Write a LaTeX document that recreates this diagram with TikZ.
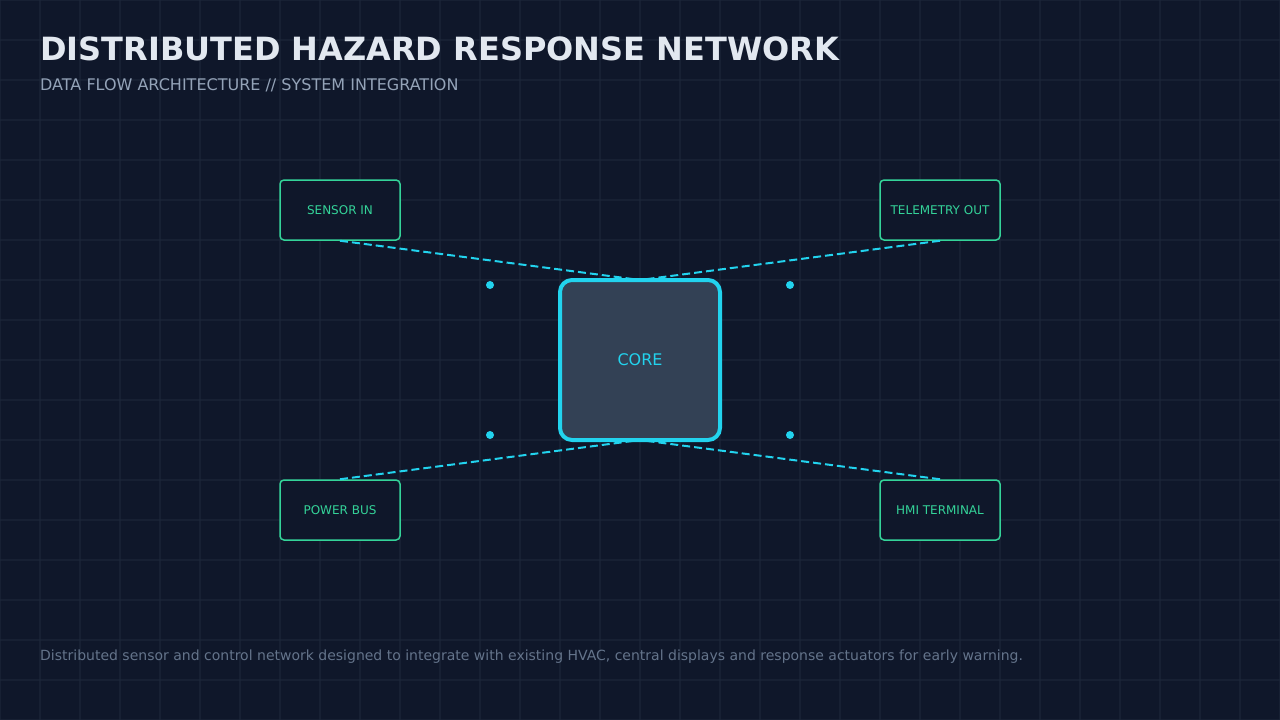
\documentclass[tikz,border=0pt]{standalone}
\usepackage{fontspec}
\setmainfont{DejaVu Sans}
\definecolor{bg}{HTML}{0F172A}
\definecolor{gridc}{HTML}{1E293B}
\definecolor{titlec}{HTML}{E2E8F0}
\definecolor{subc}{HTML}{94A3B8}
\definecolor{footc}{HTML}{64748B}
\definecolor{green}{HTML}{34D399}
\definecolor{cyan}{HTML}{22D3EE}
\definecolor{corefill}{HTML}{334155}
\tikzset{
  port/.style={draw=green, line width=1.5pt, fill=bg, rounded corners=4pt, minimum width=120pt, minimum height=60pt, inner sep=0pt, text=green, font=\fontsize{12}{14}\selectfont},
  corebox/.style={draw=cyan, line width=4pt, fill=corefill, rounded corners=12pt, minimum width=160pt, minimum height=160pt, inner sep=0pt, text=cyan, font=\fontsize{16}{19}\selectfont},
  link/.style={draw=cyan, line width=2pt, dash pattern=on 8pt off 4pt},
  dotc/.style={circle, fill=cyan, inner sep=0pt, minimum size=8pt},
  txt/.style={anchor=base west, inner sep=0pt},
  gridline/.style={gridc, line width=1.5pt, opacity=0.55},
}
\begin{document}
\begin{tikzpicture}[x=1pt,y=-1pt]
\useasboundingbox (0,0) rectangle (1280,720);
\fill[bg] (0,0) rectangle (1280,720);
\foreach \i in {0,40,...,1280} \draw[gridline] (\i,0) -- (\i,720);
\foreach \j in {0,40,...,720} \draw[gridline] (0,\j) -- (1280,\j);

\node[txt, text=titlec, font=\fontsize{32}{38}\selectfont\bfseries] (title) at (40,60) {DISTRIBUTED HAZARD RESPONSE NETWORK};
\node[txt, text=subc, font=\fontsize{16}{19}\selectfont] (sub) at (40,90) {DATA FLOW ARCHITECTURE // SYSTEM INTEGRATION};

\coordinate (cT) at (640,280);
\coordinate (cB) at (640,440);
\node[port] (s) at (340,210) {SENSOR IN};
\node[port] (t) at (940,210) {TELEMETRY OUT};
\node[port] (p) at (340,510) {POWER BUS};
\node[port] (h) at (940,510) {HMI TERMINAL};

\draw[link] (s.south) -- (cT);
\draw[link] (t.south) -- (cT);
\draw[link] (p.north) -- (cB);
\draw[link] (h.north) -- (cB);

\node[corebox] (core) at (640,360) {CORE};

\node[dotc] (d1) at (490,285) {};
\node[dotc] (d2) at (790,285) {};
\node[dotc] (d3) at (490,435) {};
\node[dotc] (d4) at (790,435) {};

\node[txt, text=footc, font=\fontsize{14}{17}\selectfont] (foot) at (40,660) {Distributed sensor and control network designed to integrate with existing HVAC, central displays and response actuators for early warning.};
\end{tikzpicture}
\end{document}
